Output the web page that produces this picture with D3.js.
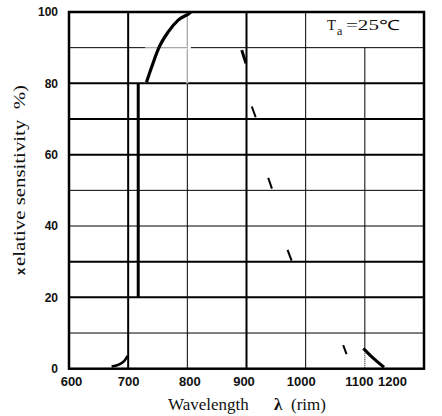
<!DOCTYPE html>
<html>
<head>
<meta charset="utf-8">
<script src="https://cdn.jsdelivr.net/npm/d3@7"></script>
<style>
	body { margin: 0; background: #fff; }
	text { white-space: pre; }
</style>
</head>
<body>
<div id="chart"></div>
<script>
// axis ticks (the scan prints the right-hand labels a bit off their grid lines)
const xTicks = [600, 700, 800, 900, 1000, 1100, 1200];
const xTickNudge = [2, 0, 2, -3, -5, -6, -32];
const yTicks = [0, 20, 40, 60, 80, 100];

// grid
const gridX = [700, 800, 900, 1000, 1100];
const gridXHeavy = [700, 900];
const gridY = [10, 20, 30, 40, 50, 60, 70, 80, 90];
const gridYHeavy = [20, 30, 60, 70, 80];

// pieces of the sensitivity curve that survive in the scan (nm, %)
const footCurve = [[672, 0.6], [686, 1.3], [693.5, 2.2], [699, 3.6]];
const sideBar = [[717, 80], [717, 20]];
const peakArc = [[731, 80.3], [740, 84.7], [752, 90.0], [768, 94.5], [785, 97.8], [803, 99.6], [806, 100]];
const dropWedge = [[892, 89.3], [899, 85.6]];
const dashes = [
	[[909, 73.5], [915.5, 70.5]],
	[[936.7, 53.5], [943, 50.5]],
	[[969.4, 33.3], [976.2, 30.3]],
	[[1063.4, 6.6], [1069.1, 4.1]]
];
const tailCurve = [[1097.5, 5.7], [1110, 3.6], [1132.5, 0.4]];

const params = {
	width: 442, height: 416,
	left: 69, right: 424, top: 12, bottom: 368.7
};

const svg = d3.select("#chart")
	.append("svg")
	.attr("width", params.width)
	.attr("height", params.height);

const xScale = d3.scaleLinear().domain([600, 1200]).range([params.left, params.right]);
const yScale = d3.scaleLinear().domain([0, 100]).range([params.bottom, params.top]);

// grid lines
const grid = svg.append("g").attr("stroke", "#000");

grid.selectAll(".gx")
	.data(gridX)
	.join("line")
	.attr("x1", d => xScale(d))
	.attr("x2", d => xScale(d))
	// 1100 line stops at the Ta box, and goes dotted under the tail
	.attr("y1", d => d == 1100 ? yScale(90) : yScale(100))
	.attr("y2", d => d == 1100 ? yScale(6) : yScale(0))
	.attr("stroke-width", d => gridXHeavy.includes(d) ? 2 : 1);

grid.append("line")
	.attr("x1", xScale(1100)).attr("x2", xScale(1100))
	.attr("y1", yScale(6)).attr("y2", yScale(0))
	.attr("stroke-width", 1)
	.attr("stroke-dasharray", "1,1");

grid.selectAll(".gy")
	.data(gridY)
	.join("line")
	.attr("x1", xScale(600))
	.attr("x2", xScale(1200))
	.attr("y1", d => yScale(d))
	.attr("y2", d => yScale(d))
	.attr("stroke-width", d => gridYHeavy.includes(d) ? 2 : 1);

// faint part of the grid behind the peak
svg.append("line")
	.attr("x1", xScale(800)).attr("x2", xScale(800))
	.attr("y1", yScale(100)).attr("y2", yScale(80))
	.attr("stroke", "#fff").attr("stroke-width", 2);
svg.append("line")
	.attr("x1", xScale(800)).attr("x2", xScale(800))
	.attr("y1", yScale(100)).attr("y2", yScale(80))
	.attr("stroke", "#999").attr("stroke-width", 1);
svg.append("line")
	.attr("x1", xScale(729)).attr("x2", xScale(806))
	.attr("y1", yScale(90)).attr("y2", yScale(90))
	.attr("stroke", "#fff").attr("stroke-width", 2);
svg.append("line")
	.attr("x1", xScale(729)).attr("x2", xScale(801))
	.attr("y1", yScale(90)).attr("y2", yScale(90))
	.attr("stroke", "#999").attr("stroke-width", 1);

// frame
svg.append("rect")
	.attr("x", params.left)
	.attr("y", params.top)
	.attr("width", params.right - params.left)
	.attr("height", params.bottom - params.top)
	.attr("fill", "none")
	.attr("stroke", "#000")
	.attr("stroke-width", 2.5);

// curve pieces
const line = d3.line()
	.x(d => xScale(d[0]))
	.y(d => yScale(d[1]))
	.curve(d3.curveMonotoneX);

const straight = d3.line()
	.x(d => xScale(d[0]))
	.y(d => yScale(d[1]));

const curves = svg.append("g")
	.attr("fill", "none")
	.attr("stroke", "#000");

curves.append("path").attr("d", line(footCurve)).attr("stroke-width", 2.5);
curves.append("path").attr("d", straight(sideBar)).attr("stroke-width", 3);
curves.append("path").attr("d", line(peakArc)).attr("stroke-width", 3.2);
curves.append("path").attr("d", straight(dropWedge)).attr("stroke-width", 3);
curves.selectAll(".dash")
	.data(dashes)
	.join("path")
	.attr("d", d => straight(d))
	.attr("stroke-width", 2);
curves.append("path").attr("d", line(tailCurve)).attr("stroke-width", 3);

// axes
const xAxis = svg.append("g")
	.attr("transform", `translate(0, ${params.bottom})`)
	.call(d3.axisBottom(xScale).tickValues(xTicks).tickFormat(d3.format("d")).tickSize(0).tickPadding(8));
xAxis.select(".domain").remove();
xAxis.selectAll("text")
	.attr("dx", (d, i) => xTickNudge[i])
	.attr("font-family", "Liberation Sans, Arial, sans-serif")
	.attr("font-weight", "bold")
	.attr("font-size", 13)
	.attr("fill", "#111");

const yAxis = svg.append("g")
	.attr("transform", `translate(${params.left}, 0)`)
	.call(d3.axisLeft(yScale).tickValues(yTicks).tickSize(0).tickPadding(11));
yAxis.select(".domain").remove();
yAxis.selectAll("text")
	.attr("font-family", "Liberation Sans, Arial, sans-serif")
	.attr("font-weight", "bold")
	.attr("font-size", 12)
	.attr("fill", "#111");

// axis titles
const xTitle = svg.append("text")
	.attr("y", 410)
	.attr("font-family", "Liberation Serif, Times New Roman, serif")
	.attr("font-size", 17)
	.attr("fill", "#111");
xTitle.append("tspan").attr("x", 168).text("Wavelength");
xTitle.append("tspan").attr("x", 274).attr("font-weight", "bold").text("λ");
xTitle.append("tspan").attr("x", 291).text("(rim)");

const yTitle = svg.append("text")
	.attr("transform", "translate(25, 275) rotate(-90)")
	.attr("fill", "#111");
yTitle.append("tspan")
	.attr("font-family", "Liberation Sans, Arial, sans-serif")
	.attr("font-weight", "bold")
	.attr("font-size", 13)
	.text("x");
yTitle.append("tspan")
	.attr("x", 9)
	.attr("font-family", "Liberation Serif, Times New Roman, serif")
	.attr("font-size", 17)
	.attr("textLength", 181)
	.attr("lengthAdjust", "spacingAndGlyphs")
	.text("elative sensitivity  %)");

// ambient temperature note
const note = svg.append("text")
	.attr("y", 30)
	.attr("font-family", "Liberation Serif, Times New Roman, serif")
	.attr("font-size", 14)
	.attr("fill", "#111");
note.append("tspan").attr("x", 327).attr("textLength", 9).attr("lengthAdjust", "spacingAndGlyphs").text("T");
note.append("tspan").attr("x", 337).attr("dy", 5).attr("font-size", 12).text("a");
note.append("tspan").attr("x", 346).attr("dy", -5)
	.attr("textLength", 54).attr("lengthAdjust", "spacingAndGlyphs").text("=25℃");
</script>
</body>
</html>
